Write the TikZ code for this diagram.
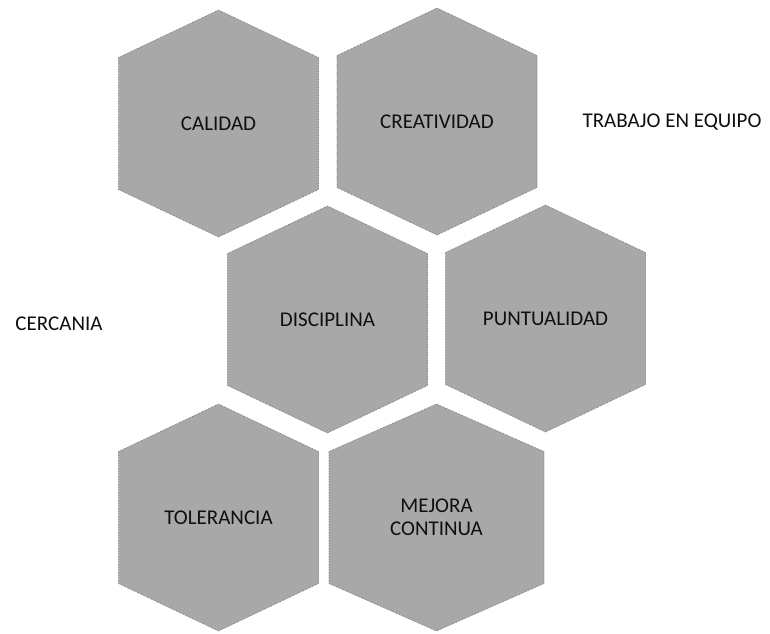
\documentclass[tikz,border=0pt]{standalone}
\usepackage{fontspec}
\setmainfont{Carlito}
\definecolor{hexgray}{RGB}{168,168,168}
\definecolor{hexedge}{RGB}{105,105,105}
\definecolor{labeltext}{RGB}{15,15,15}

\tikzset{
  hexfill/.style={fill=hexgray, draw=hexedge, line width=0.6pt, densely dotted},
  hexlabel/.style={text=labeltext, align=center, font=\fontsize{21}{23}\selectfont, inner sep=0pt},
  freelabel/.style={hexlabel}
}

% name, x, y, half width, text
\newcommand{\hexcell}[5]{%
  \fill[hexfill] (#2-#4,#3-66) -- (#2,#3-113.5) -- (#2+#4,#3-66)
     -- (#2+#4,#3+66) -- (#2,#3+113.5) -- (#2-#4,#3+66) -- cycle;
  \node[hexlabel] (#1) at (#2,#3) {#5};}

\begin{document}
\begin{tikzpicture}[x=1pt,y=-1pt]
  \useasboundingbox (0,0) rectangle (770,633);
  % \draw[help lines,step=50] (0,0) grid (770,633);

  \hexcell{calidad}{218.5}{123.5}{100}{CALIDAD}
  \hexcell{creatividad}{437}{121.5}{100}{CREATIVIDAD}
  \hexcell{disciplina}{327.5}{319.5}{100}{DISCIPLINA}
  \hexcell{puntualidad}{545.5}{318.5}{100}{PUNTUALIDAD}
  \hexcell{tolerancia}{218.5}{517.5}{100}{TOLERANCIA}
  \hexcell{mejora}{436.5}{517.5}{107.5}{MEJORA\\CONTINUA}

  \node[freelabel] (equipo)   at (672,122) {TRABAJO EN EQUIPO};
  \node[freelabel] (cercania) at (59,324)  {CERCANIA};
\end{tikzpicture}
\end{document}
